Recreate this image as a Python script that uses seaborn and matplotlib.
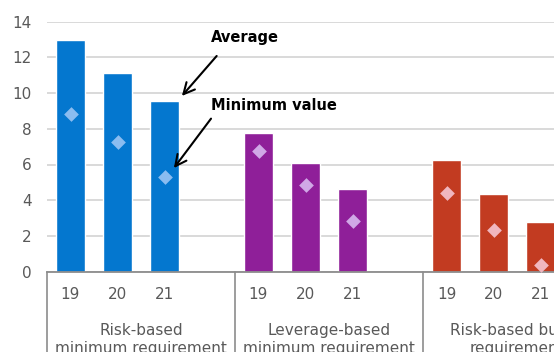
import numpy as np
import pandas as pd
import matplotlib
matplotlib.use("Agg")
import matplotlib.pyplot as plt
import seaborn as sns

# Data
groups = ["Risk-based\nminimum requirement",
          "Leverage-based\nminimum requirement",
          "Risk-based buffer\nrequirement"]
years = ["19", "20", "21"]
average = {
    groups[0]: [13.0, 11.1, 9.55],
    groups[1]: [7.75, 6.1, 4.6],
    groups[2]: [6.25, 4.35, 2.8],
}
minimum = {
    groups[0]: [8.85, 7.25, 5.3],
    groups[1]: [6.75, 4.85, 2.85],
    groups[2]: [4.4, 2.35, 0.35],
}
bar_colors = ["#0477CF", "#8F1F99", "#C23B21"]
dot_colors = ["#8BBCF0", "#D0A8E6", "#F0B6BF"]

# one blank slot after every group
rows, order, labels = [], [], []
for gi, g in enumerate(groups):
    for yi, yr in enumerate(years):
        slot = f"{gi}-{yr}"
        rows.append({"slot": slot, "group": g,
                     "average": average[g][yi], "minimum": minimum[g][yi]})
        order.append(slot)
        labels.append(yr)
    order.append(f"{gi}-gap")
    labels.append("")
df = pd.DataFrame(rows)

sns.set_style("white")
plt.rcParams["font.family"] = ["DejaVu Sans"]
grey = "#595959"

fig = plt.figure(figsize=(5.54, 3.52), dpi=100)
ax = fig.add_axes([47 / 554, 80.4 / 352, 564 / 554, 249.9 / 352])

sns.barplot(data=df, x="slot", y="average", hue="group", order=order,
            palette=dict(zip(groups, bar_colors)), dodge=False, width=0.62,
            saturation=1, legend=False, ax=ax, zorder=2)
sns.stripplot(data=df, x="slot", y="minimum", hue="group", order=order,
              palette=dict(zip(groups, dot_colors)), marker="D", size=7.5,
              jitter=False, dodge=False, legend=False, ax=ax, zorder=3,
              linewidth=0)

n = len(order)
ax.set_xlim(-0.5, n - 0.5)
ax.set_ylim(0, 14)
ax.set_yticks(np.arange(0, 15, 2))
ax.set_xticks(range(n))
ax.set_xticklabels(labels)
ax.set_xlabel("")
ax.set_ylabel("")

ax.yaxis.grid(True, color="#d9d9d9", lw=1.4)
ax.xaxis.grid(False)
ax.set_axisbelow(True)
for s in ["left", "right", "top"]:
    ax.spines[s].set_visible(False)
ax.spines["bottom"].set_color("#8c8c8c")
ax.spines["bottom"].set_linewidth(1.3)

ax.tick_params(axis="y", length=0, pad=11, labelsize=11, labelcolor=grey)
ax.tick_params(axis="x", which="major", length=0, pad=11, labelsize=11,
               labelcolor=grey)

# short separators between years, long ones between groups
per = len(years) + 1
short = [i + 0.5 for i in range(n - 1) if (i + 1) % per != 0]
ax.set_xticks(short, minor=True)
ax.tick_params(axis="x", which="minor", length=25, width=1.2,
               color="#8c8c8c", direction="out")
trans = ax.get_xaxis_transform()
for k in range(len(groups) + 1):
    xb = k * per - 0.5
    ax.plot([xb, xb], [0, -0.33], transform=trans, color="#8c8c8c",
            lw=1.2, clip_on=False)
for k, g in enumerate(groups):
    ax.text(k * per + len(years) / 2, -0.272, g,
            transform=trans, ha="center", va="center", fontsize=11,
            color=grey, linespacing=1.3)

# annotations
ax.text(2.99, 13.13, "Average", fontsize=10.5, fontweight="bold",
        va="center", ha="left", color="black")
ax.annotate("", xy=(2.37, 9.84), xytext=(3.11, 12.08),
            arrowprops=dict(arrowstyle="->", color="black", lw=1.5,
                            mutation_scale=20, shrinkA=0, shrinkB=0))
ax.text(2.99, 9.28, "Minimum value", fontsize=10.5, fontweight="bold",
        va="center", ha="left", color="black")
ax.annotate("", xy=(2.20, 5.80), xytext=(2.99, 8.57),
            arrowprops=dict(arrowstyle="->", color="black", lw=1.5,
                            mutation_scale=20, shrinkA=0, shrinkB=0))

fig.savefig("out.png", dpi=100)
